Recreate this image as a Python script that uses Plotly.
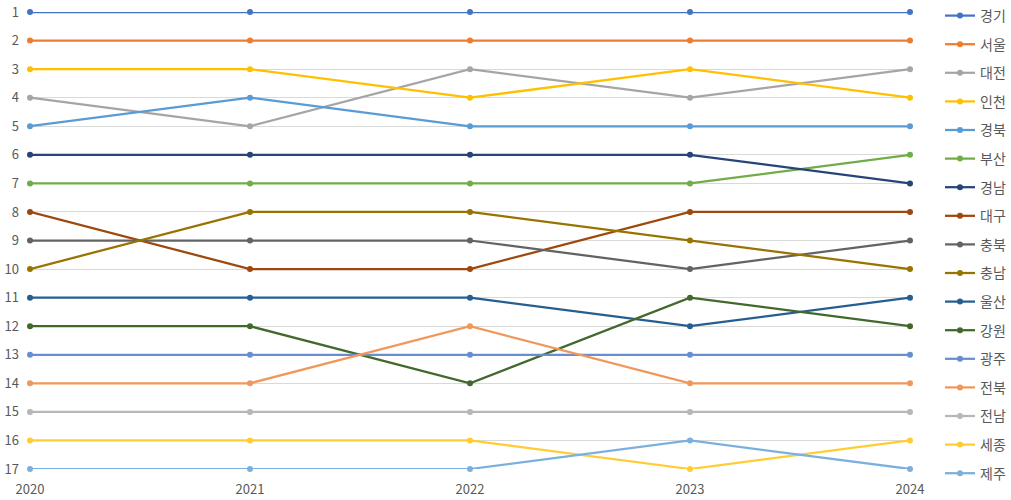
import plotly.graph_objects as go

years = [2020, 2021, 2022, 2023, 2024]

regions = ["경기", "서울", "대전", "인천", "경북", "부산", "경남", "대구", "충북",
           "충남", "울산", "강원", "광주", "전북", "전남", "세종", "제주"]

rank_gyeonggi = [1, 1, 1, 1, 1]
rank_seoul = [2, 2, 2, 2, 2]
rank_daejeon = [4, 5, 3, 4, 3]
rank_incheon = [3, 3, 4, 3, 4]
rank_gyeongbuk = [5, 4, 5, 5, 5]
rank_busan = [7, 7, 7, 7, 6]
rank_gyeongnam = [6, 6, 6, 6, 7]
rank_daegu = [8, 10, 10, 8, 8]
rank_chungbuk = [9, 9, 9, 10, 9]
rank_chungnam = [10, 8, 8, 9, 10]
rank_ulsan = [11, 11, 11, 12, 11]
rank_gangwon = [12, 12, 14, 11, 12]
rank_gwangju = [13, 13, 13, 13, 13]
rank_jeonbuk = [14, 14, 12, 14, 14]
rank_jeonnam = [15, 15, 15, 15, 15]
rank_sejong = [16, 16, 16, 17, 16]
rank_jeju = [17, 17, 17, 16, 17]

ranks = [rank_gyeonggi, rank_seoul, rank_daejeon, rank_incheon, rank_gyeongbuk,
         rank_busan, rank_gyeongnam, rank_daegu, rank_chungbuk, rank_chungnam,
         rank_ulsan, rank_gangwon, rank_gwangju, rank_jeonbuk, rank_jeonnam,
         rank_sejong, rank_jeju]

colors = ["#4472C4", "#ED7D31", "#A5A5A5", "#FFC000", "#5B9BD5", "#70AD47",
          "#264478", "#9E480E", "#636363", "#997300", "#255E91", "#43682B",
          "#698ED0", "#F1975A", "#B7B7B7", "#FFCD33", "#7CAFDD"]

FONT = "Noto Sans CJK KR"
TEXT = "#595959"

fig = go.Figure()
for name, r, c in zip(regions, ranks, colors):
    fig.add_trace(go.Scatter(
        x=years, y=r, name=name, mode="lines+markers",
        line=dict(color=c, width=2.25),
        marker=dict(color=c, size=6),
        cliponaxis=False, legendgroup=name,
    ))

fig.update_layout(
    width=1011, height=500,
    margin=dict(l=30, r=101, t=12, b=31, autoexpand=False),
    plot_bgcolor="white", paper_bgcolor="white",
    font=dict(family=FONT, color=TEXT, size=13),
    showlegend=True,
    legend=dict(
        xref="container", yref="container",
        x=940 / 1011, xanchor="left", y=1.004, yanchor="top",
        maxheight=500,
        font=dict(family=FONT, size=14, color=TEXT),
        tracegroupgap=7.4, bgcolor="rgba(0,0,0,0)",
    ),
    xaxis=dict(
        range=[2020, 2024], tickvals=years, ticktext=[str(y) for y in years],
        showgrid=False, zeroline=False, showline=False, ticks="",
        tickfont=dict(size=13, color=TEXT), ticklabelstandoff=11,
    ),
    yaxis=dict(
        range=[17, 1], tickvals=list(range(1, 18)),
        showgrid=True, gridcolor="#D9D9D9", gridwidth=1,
        zeroline=False, showline=False, ticks="",
        tickfont=dict(size=13, color=TEXT), ticklabelstandoff=10,
    ),
)

fig.write_html("out.html")
